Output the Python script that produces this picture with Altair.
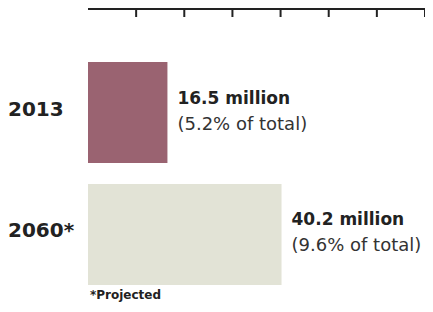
import altair as alt
import pandas as pd

years = ["2013", "2060*"]
values = [16.5, 40.2]
value_labels = ["16.5 million", "40.2 million"]
share_labels = ["(5.2% of total)", "(9.6% of total)"]
bar_colors = ["#9a6371", "#e2e3d6"]
tick_values = [10, 20, 30, 40, 50, 60, 70]
axis_domain = [0, 70]
footnote = "*Projected"

df = pd.DataFrame({
    "year": years,
    "value": values,
    "vlabel": value_labels,
    "slabel": share_labels,
    "color": bar_colors,
})
ticks_df = pd.DataFrame({"t": tick_values})
dom_df = pd.DataFrame({"a": [axis_domain[0]], "b": [axis_domain[1]]})
foot_df = pd.DataFrame({"f": [footnote]})

xscale = alt.Scale(domain=axis_domain, nice=False, zero=True)
yscale = alt.Scale(domain=years, range=[54, 277], paddingInner=0.172, paddingOuter=0)

X = alt.X("value:Q", scale=xscale, axis=None)
Y = alt.Y("year:N", scale=yscale, axis=None)

bars = alt.Chart(df).mark_bar().encode(
    x=X, y=Y, color=alt.Color("color:N", scale=None)
)

year_text = alt.Chart(df).mark_text(
    align="left", baseline="middle", font="DejaVu Sans", fontWeight="bold",
    fontSize=20, color="#222222", dy=-3
).encode(x=alt.value(-80), y=Y, text="year:N")

vtext = alt.Chart(df).mark_text(
    align="left", baseline="middle", font="DejaVu Sans", fontWeight="bold",
    fontSize=17, color="#222222", dx=10, dy=-14
).encode(x=X, y=Y, text="vlabel:N")

stext = alt.Chart(df).mark_text(
    align="left", baseline="middle", font="DejaVu Sans", fontWeight="normal",
    fontSize=18, color="#333333", dx=10, dy=12
).encode(x=X, y=Y, text="slabel:N")

domain_rule = alt.Chart(dom_df).mark_rule(color="#222222", strokeWidth=2).encode(
    x=alt.X("a:Q", scale=xscale, axis=None), x2="b:Q", y=alt.value(1)
)
tick_rules = alt.Chart(ticks_df).mark_rule(color="#222222", strokeWidth=2).encode(
    x=alt.X("t:Q", scale=xscale, axis=None), y=alt.value(1), y2=alt.value(9)
)

foot = alt.Chart(foot_df).mark_text(
    align="left", baseline="alphabetic", font="DejaVu Sans", fontWeight="bold",
    fontSize=12, color="#222222"
).encode(x=alt.value(2), y=alt.value(291), text="f:N")

chart = alt.layer(domain_rule, tick_rules, bars, year_text, vtext, stext, foot).properties(
    width=337, height=295,
    padding={"left": 80, "top": 0, "right": 0, "bottom": 0},
    autosize=alt.AutoSizeParams(type="none"),
    background="white",
).configure_view(stroke=None)

chart.save("out.html", embed_options={"renderer": "svg", "actions": False})
